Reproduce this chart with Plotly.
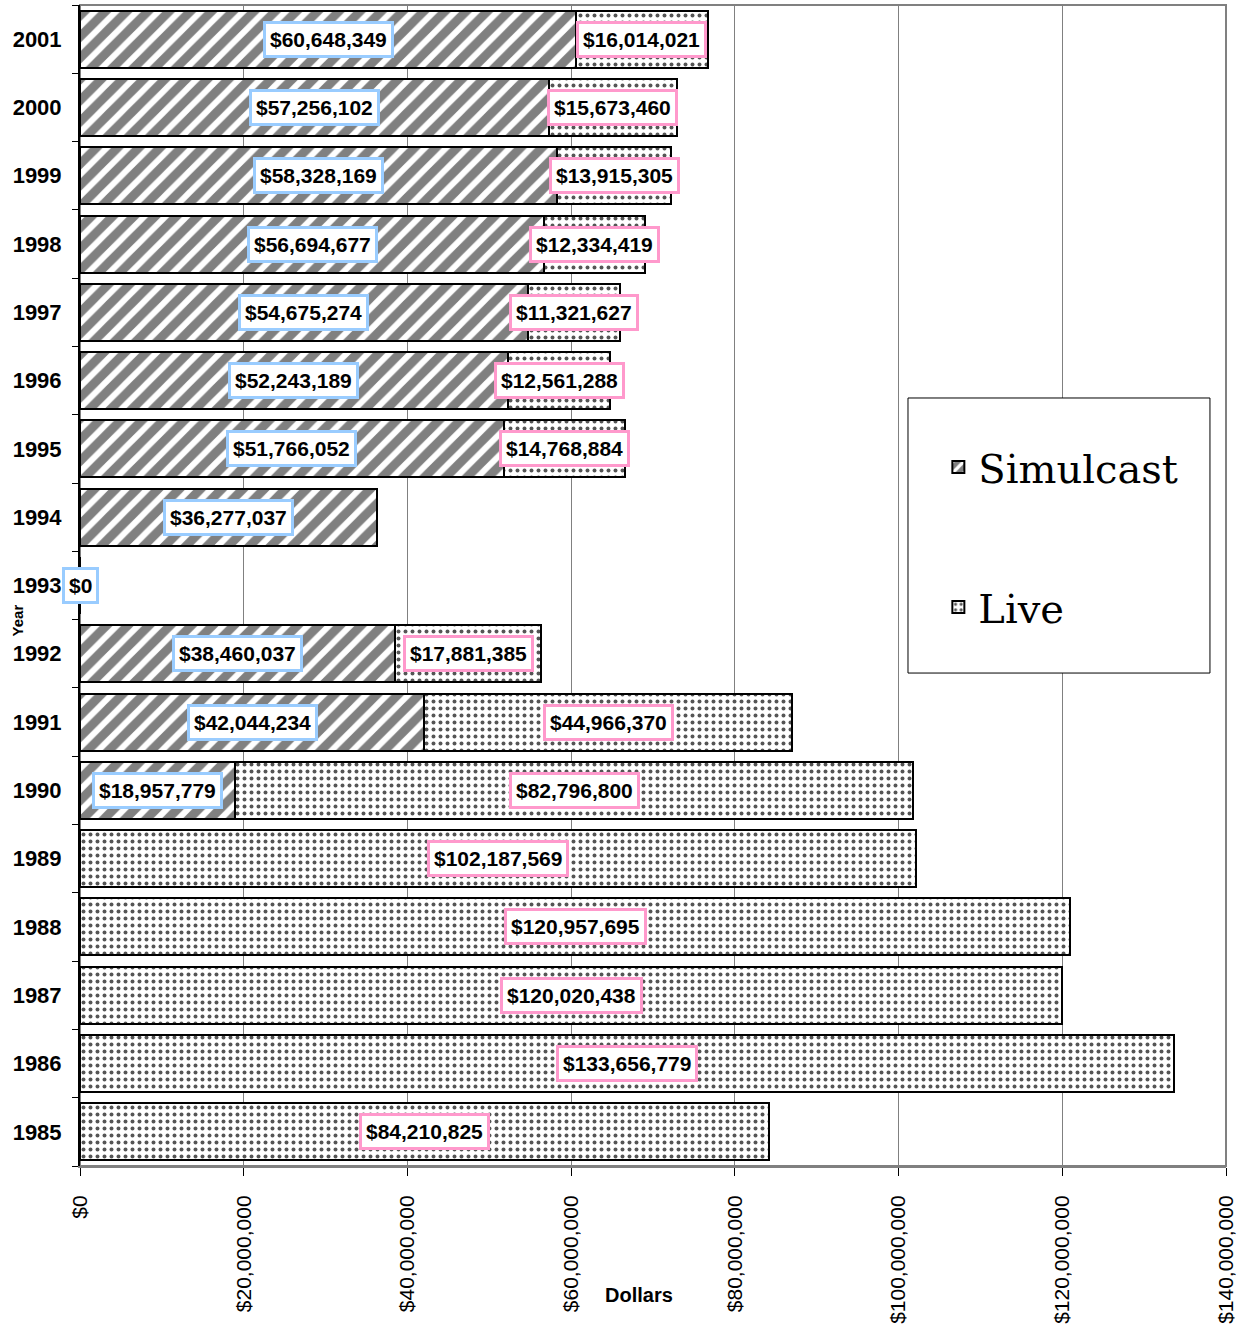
import plotly.graph_objects as go

years = ["1985", "1986", "1987", "1988", "1989", "1990", "1991", "1992", "1993",
         "1994", "1995", "1996", "1997", "1998", "1999", "2000", "2001"]
simulcast = [None, None, None, None, None, 18957779, 42044234, 38460037, 0,
             36277037, 51766052, 52243189, 54675274, 56694677, 58328169, 57256102, 60648349]
live = [84210825, 133656779, 120020438, 120957695, 102187569, 82796800, 44966370, 17881385, None,
        None, 14768884, 12561288, 11321627, 12334419, 13915305, 15673460, 16014021]
x_ticks = [0, 20000000, 40000000, 60000000, 80000000, 100000000, 120000000, 140000000]
x_tick_text = ["$0", "$20,000,000", "$40,000,000", "$60,000,000", "$80,000,000",
               "$100,000,000", "$120,000,000", "$140,000,000"]

fig = go.Figure()
fig.add_trace(go.Bar(
    name="Simulcast", y=years, x=simulcast, orientation="h", legendgroup="s",
    marker=dict(color="#808080", line=dict(color="black", width=2),
                pattern=dict(shape="/", bgcolor="#808080", fgcolor="white", size=15, solidity=0.4,
                             fillmode="replace")),
))
fig.add_trace(go.Bar(
    name="Live", y=years, x=live, orientation="h", legendgroup="l",
    marker=dict(color="white", line=dict(color="black", width=2),
                pattern=dict(shape=".", bgcolor="white", fgcolor="#555555", size=7, solidity=0.25,
                             fillmode="replace")),
))

label_font = dict(family="Liberation Sans", size=21, color="black", weight="bold")
annotations = []
for i, (s, l) in enumerate(zip(simulcast, live)):
    base = 0
    if s is not None:
        annotations.append(dict(x=s / 2, y=i, xref="x", yref="y", text=f"${s:,.0f}",
                                showarrow=False, bgcolor="white", bordercolor="#99CCFF",
                                borderwidth=3, borderpad=4, font=label_font))
        base = s
    if l is not None:
        annotations.append(dict(x=base + l / 2, y=i, xref="x", yref="y", text=f"${l:,.0f}",
                                showarrow=False, bgcolor="white", bordercolor="#FF99CC",
                                borderwidth=3, borderpad=4, font=label_font))

annotations.append(dict(x=0.488, y=-0.122, xref="paper", yref="paper", text="<b>Dollars</b>",
                        showarrow=False, font=dict(family="Liberation Sans", size=20, color="black")))
annotations.append(dict(x=-0.064, y=0.47, xref="paper", yref="paper", text="<b>Year</b>", textangle=-90,
                        showarrow=False, font=dict(family="Liberation Sans", size=15, color="black")))

fig.update_layout(
    barmode="stack",
    bargap=0.165,
    width=1243, height=1333,
    margin=dict(l=80, r=17, t=5, b=167),
    plot_bgcolor="white", paper_bgcolor="white",
    annotations=annotations,
    showlegend=True,
    legend=dict(x=0.749, y=0.63, xanchor="left", yanchor="top", traceorder="grouped",
                tracegroupgap=85, bgcolor="rgba(0,0,0,0)", borderwidth=0,
                font=dict(family="DejaVu Serif", size=40, color="black")),
    shapes=[
        dict(type="rect", xref="paper", yref="paper", x0=0.7225, x1=0.986, y0=0.4246, y1=0.6615,
             line=dict(color="black", width=1), fillcolor="white", layer="above"),
        dict(type="rect", xref="paper", yref="paper", x0=0, x1=1, y0=0, y1=1,
             line=dict(color="#808080", width=2), layer="below"),
    ],
)
fig.update_xaxes(range=[0, 140000000], tickvals=x_ticks, ticktext=x_tick_text, tickangle=-90,
                 tickfont=dict(family="Liberation Sans", size=21, color="black"),
                 ticklabelstandoff=11,
                 showgrid=True, gridcolor="#808080", gridwidth=1, zeroline=False,
                 ticks="outside", ticklen=8, tickcolor="black", automargin=False,
                 showline=True, linecolor="#808080", linewidth=2)
fig.update_yaxes(type="category", categoryorder="array", categoryarray=years,
                 range=[-0.5, len(years) - 0.5], automargin=False,
                 tickfont=dict(family="Liberation Sans", size=22, color="black", weight="bold"),
                 ticklabelstandoff=12,
                 ticks="outside", ticklen=6, tickcolor="black", tickson="boundaries",
                 showgrid=False, showline=True, linecolor="black", linewidth=2)

fig.write_html("out.html", config={"displayModeBar": False},
               post_script="document.body.style.margin='0';")
